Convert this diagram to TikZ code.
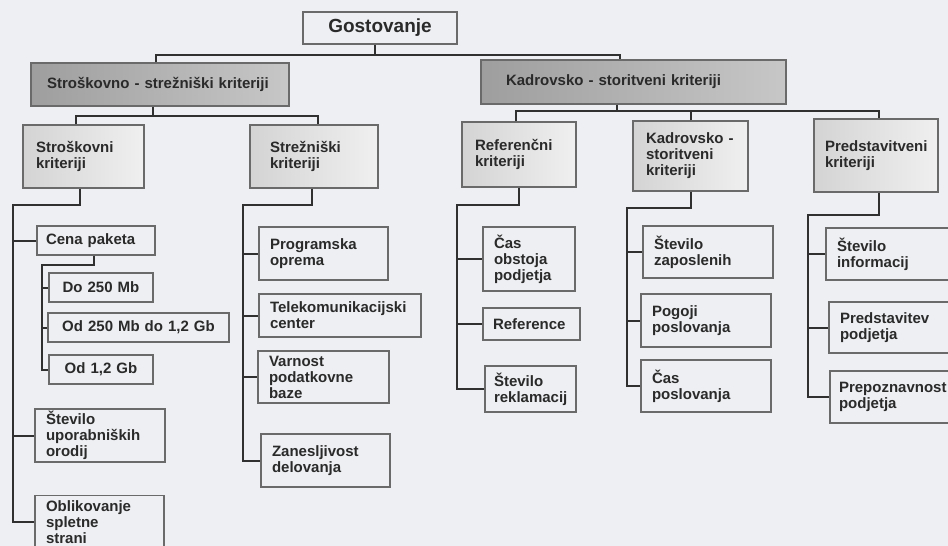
\documentclass[tikz,border=0pt]{standalone}
\usepackage{fontspec}
\setmainfont{Liberation Sans}
\usepackage{tikz}
\definecolor{paper}{HTML}{EDEFF2}
\definecolor{ink}{HTML}{2A2A2A}
\definecolor{linegray}{HTML}{303030}
\definecolor{boxgray}{HTML}{6A6A6A}
\tikzstyle{box} = [rectangle, draw=boxgray, line width=1.2pt, text=ink, align=left,
    inner xsep=11pt, inner ysep=0pt, font=\fontsize{15pt}{16pt}\selectfont\bfseries]
\tikzstyle{head} = [box, left color=black!38, right color=black!22, inner xsep=16pt]
\tikzstyle{crit} = [box, left color=black!17, right color=black!6, inner xsep=13pt]
\tikzstyle{leaf} = [box, fill=paper]
\tikzstyle{line} = [draw=linegray, line width=2pt]

\begin{document}
\begin{tikzpicture}[x=1pt, y=-1pt]
\fill [paper] (0,0) rectangle (948,546);
\useasboundingbox (0,0) rectangle (948,546);
\clip (0,0) rectangle (948,546);

\node [box, fill=paper, align=center, minimum width=154pt, minimum height=32pt,
    font=\fontsize{19pt}{21pt}\selectfont\bfseries] at (380,28) (gost) {Gostovanje};

\node [head, text width=226pt, minimum height=43pt] at (160,84.5) (sskrit) {Stroškovno - strežniški kriteriji};
\node [head, inner xsep=25pt, text width=255pt, minimum height=44pt] at (633.5,82) (kskrit) {Kadrovsko - storitveni kriteriji};

\node [crit, text width=95pt, minimum height=63pt] at (83.5,156.5) (strkrit) {Stroškovni\\kriteriji};
\node [crit, inner xsep=20pt, text width=88pt, minimum height=63pt] at (314,156.5) (strezkrit) {Strežniški\\kriteriji};
\node [crit, text width=88pt, minimum height=65pt] at (519,154.5) (refkrit) {Referenčni\\kriteriji};
\node [crit, text width=89pt, minimum height=70pt] at (690.5,156) (kskrit2) {Kadrovsko -\\storitveni\\kriteriji};
\node [crit, inner xsep=11pt, text width=102pt, minimum height=73pt] at (876,155.5) (predkrit) {Predstavitveni\\kriteriji};

\node [leaf, inner xsep=9pt, text width=100pt, minimum height=29pt] at (96,240.5) (cena) {Cena paketa};
\node [leaf, align=center, text width=82pt, minimum height=29pt] at (101,287.5) (do250) {Do 250 Mb};
\node [leaf, align=center, text width=159pt, minimum height=29pt] at (138.5,327.5) (od250) {Od 250 Mb do 1,2 Gb};
\node [leaf, align=center, text width=82pt, minimum height=29pt] at (101,369.5) (od12) {Od 1,2 Gb};
\node [leaf, text width=108pt, minimum height=53pt] at (100,435.5) (stuporab) {Število\\uporabniških\\orodij};
\node [leaf, text width=107pt, minimum height=53pt] at (99.5,522) (oblik) {Oblikovanje\\spletne\\strani};

\node [leaf, text width=107pt, minimum height=53pt] at (323.5,253.5) (progr) {Programska\\oprema};
\node [leaf, text width=140pt, minimum height=43pt] at (340,315.5) (telekom) {Telekomunikacijski\\center};
\node [leaf, text width=109pt, minimum height=52pt] at (323.5,377) (varnost) {Varnost\\podatkovne\\baze};
\node [leaf, text width=107pt, minimum height=53pt] at (325.5,460.5) (zanes) {Zanesljivost\\delovanja};

\node [leaf, text width=70pt, minimum height=64pt] at (529,259) (casobst) {Čas\\obstoja\\podjetja};
\node [leaf, inner xsep=10pt, text width=77pt, minimum height=32pt] at (531.5,324) (refer) {Reference};
\node [leaf, inner xsep=9pt, text width=73pt, minimum height=46pt] at (530.5,389) (streklam) {Število\\reklamacij};

\node [leaf, text width=108pt, minimum height=52pt] at (708,252) (stzap) {Število\\zaposlenih};
\node [leaf, text width=108pt, minimum height=53pt] at (706,320.5) (pogoji) {Pogoji\\poslovanja};
\node [leaf, text width=108pt, minimum height=52pt] at (706,386) (caspos) {Čas\\poslovanja};

\node [leaf, text width=118pt, minimum height=52pt] at (896,254) (stinf) {Število\\informacij};
\node [leaf, text width=118pt, minimum height=51pt] at (899,327.5) (predpod) {Predstavitev\\podjetja};
\node [leaf, inner xsep=9pt, text width=122pt, minimum height=52pt] at (900,397) (prepoz) {Prepoznavnost\\podjetja};

\draw [line] ([xshift=-5pt]gost.south) -- ++(0,10) coordinate (g1);
\draw [line] ([xshift=-4pt]sskrit.north) |- (g1) -| ([xshift=-14pt]kskrit.north);

\draw [line] ([xshift=-7pt]sskrit.south) -- ++(0,9) coordinate (s1);
\draw [line] ([xshift=-8pt]strkrit.north) |- (s1) -| ([xshift=4pt]strezkrit.north);

\draw [line] ([xshift=-16.5pt]kskrit.south) -- ++(0,6) coordinate (k1);
\draw [line] ([xshift=-3pt]refkrit.north) |- (k1) -| ([xshift=3pt]predkrit.north);
\draw [line] (kskrit2.north) -- (kskrit2.north |- k1);

\coordinate (v1) at (13,205);
\draw [line] ([xshift=-4pt]strkrit.south) |- (v1) |- (oblik.west);
\foreach \n in {cena, stuporab} \draw [line] (v1 |- \n.west) -- (\n.west);

\coordinate (v2) at (42,265);
\draw [line] ([xshift=-2pt]cena.south) |- (v2) |- (od12.west);
\foreach \n in {do250, od250} \draw [line] (v2 |- \n.west) -- (\n.west);

\coordinate (v3) at (243,205);
\draw [line] ([xshift=-2pt]strezkrit.south) |- (v3) |- (zanes.west);
\foreach \n in {progr, telekom, varnost} \draw [line] (v3 |- \n.west) -- (\n.west);

\coordinate (v4) at (457,205);
\draw [line] (refkrit.south) |- (v4) |- (streklam.west);
\foreach \n in {casobst, refer} \draw [line] (v4 |- \n.west) -- (\n.west);

\coordinate (v5) at (627,208);
\draw [line] (kskrit2.south) |- (v5) |- (caspos.west);
\foreach \n in {stzap, pogoji} \draw [line] (v5 |- \n.west) -- (\n.west);

\coordinate (v6) at (808,215);
\draw [line] ([xshift=3pt]predkrit.south) |- (v6) |- (prepoz.west);
\foreach \n in {stinf, predpod} \draw [line] (v6 |- \n.west) -- (\n.west);
\end{tikzpicture}
\end{document}
